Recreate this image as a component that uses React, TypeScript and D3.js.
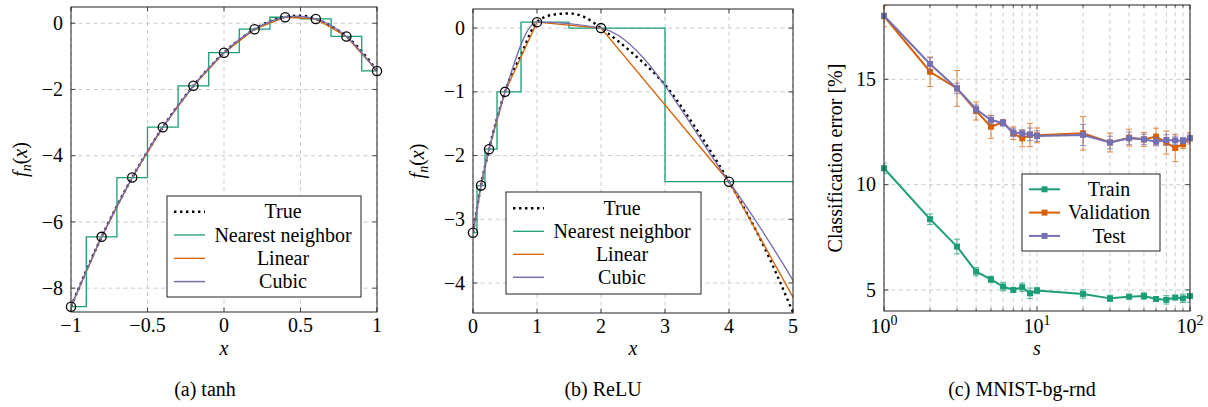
import React from 'react';
import * as d3 from 'd3';

// ---------- DATA ----------
// (a) tanh
const tanhSampleX = [-1, -0.8, -0.6, -0.4, -0.2, 0, 0.2, 0.4, 0.6, 0.8, 1];
const tanhSampleY = [-8.56, -6.45, -4.66, -3.14, -1.89, -0.89, -0.18, 0.18, 0.13, -0.4, -1.44];
const tanhTrueX = [-1, -0.9, -0.8, -0.7, -0.6, -0.5, -0.4, -0.3, -0.2, -0.1, 0, 0.1, 0.2, 0.3, 0.4, 0.5, 0.6, 0.7, 0.8, 0.9, 1];
const tanhTrueY = [-8.56, -7.47, -6.45, -5.52, -4.66, -3.87, -3.14, -2.48, -1.89, -1.36, -0.89, -0.5, -0.18, 0.06, 0.19, 0.23, 0.13, -0.08, -0.4, -0.85, -1.44];
const tanhXTicks = [-1, -0.5, 0, 0.5, 1];
const tanhXTickLabels = ['−1', '−0.5', '0', '0.5', '1'];
const tanhYTicks = [0, -2, -4, -6, -8];
const tanhYTickLabels = ['0', '−2', '−4', '−6', '−8'];

// (b) ReLU
const reluSampleX = [0, 0.125, 0.25, 0.5, 1, 2, 4, 8];
const reluSampleY = [-3.21, -2.47, -1.9, -1.0, 0.094, 0.0, -2.41, -9.65];
const reluTrueX = [0, 0.125, 0.25, 0.375, 0.5, 0.75, 1, 1.25, 1.5, 1.75, 2, 2.5, 3, 3.5, 4, 4.5, 5];
const reluTrueY = [-3.21, -2.47, -1.9, -1.42, -1.0, -0.42, 0.094, 0.21, 0.23, 0.17, 0.0, -0.4, -0.89, -1.6, -2.41, -3.33, -4.46];
const reluXTicks = [0, 1, 2, 3, 4, 5];
const reluXTickLabels = ['0', '1', '2', '3', '4', '5'];
const reluYTicks = [0, -1, -2, -3, -4];
const reluYTickLabels = ['0', '−1', '−2', '−3', '−4'];

// (c) MNIST-bg-rnd
const sValues = [1, 2, 3, 4, 5, 6, 7, 8, 9, 10, 20, 30, 40, 50, 60, 70, 80, 90, 100];
const trainMean = [10.78, 8.36, 7.06, 5.87, 5.5, 5.16, 5.0, 5.13, 4.84, 4.97, 4.81, 4.6, 4.68, 4.71, 4.57, 4.53, 4.64, 4.6, 4.71];
const trainErr = [0.25, 0.25, 0.35, 0.2, 0.15, 0.2, 0.1, 0.2, 0.25, 0.15, 0.2, 0.15, 0.1, 0.15, 0.1, 0.2, 0.1, 0.2, 0.3];
const valMean = [18.0, 15.36, 14.57, 13.5, 12.75, 12.96, 12.44, 12.2, 12.36, 12.34, 12.44, 12.0, 12.23, 12.15, 12.28, 12.0, 11.74, 11.92, 12.2];
const valErr = [0.5, 0.7, 0.85, 0.43, 0.55, 0.1, 0.3, 0.4, 0.55, 0.35, 0.8, 0.45, 0.4, 0.33, 0.4, 0.55, 0.65, 0.2, 0.27];
const testMean = [18.02, 15.73, 14.57, 13.58, 13.07, 12.93, 12.48, 12.44, 12.39, 12.31, 12.36, 12.0, 12.2, 12.15, 12.04, 12.12, 12.1, 12.09, 12.2];
const testErr = [0.1, 0.3, 0.25, 0.2, 0.2, 0.15, 0.2, 0.15, 0.3, 0.25, 0.5, 0.3, 0.3, 0.25, 0.2, 0.25, 0.2, 0.15, 0.2];
const cYTicks = [5, 10, 15];
const cYTickLabels = ['5', '10', '15'];
const cXMajor = [1, 10, 100];
const cXMajorExp = ['0', '1', '2'];
const cXMinor = [2, 3, 4, 5, 6, 7, 8, 9, 20, 30, 40, 50, 60, 70, 80, 90];

const interpLegend = ['True', 'Nearest neighbor', 'Linear', 'Cubic'];
const mnistLegend = ['Train', 'Validation', 'Test'];
const captions = ['(a) tanh', '(b) ReLU', '(c) MNIST-bg-rnd'];

// ---------- STYLE ----------
const FONT = '"Liberation Serif", "Times New Roman", serif';
const FS = 20;
const GREEN = '#1b9e77';
const ORANGE = '#d95f02';
const PURPLE = '#7570b3';
const GRID = '#c4c4c4';
const AXIS = '#222';

type Box = { left: number; right: number; top: number; bottom: number };
const PA: Box = { left: 71, right: 377, top: 7, bottom: 312 };
const PB: Box = { left: 473, right: 793, top: 9, bottom: 313 };
const PC: Box = { left: 884, right: 1190, top: 5, bottom: 311 };

const zip = (xs: number[], ys: number[]) => xs.map((x, i) => [x, ys[i]] as [number, number]);

function Frame({ b }: { b: Box }) {
  return (
    <rect x={b.left} y={b.top} width={b.right - b.left} height={b.bottom - b.top} fill="none" stroke={AXIS} strokeWidth={1} />
  );
}

function XGrid({ b, xs }: { b: Box; xs: number[] }) {
  return (
    <g>
      {xs.map((x, i) => (
        <line key={i} x1={x} x2={x} y1={b.top} y2={b.bottom} stroke={GRID} strokeWidth={0.9} strokeDasharray="4 3.5" />
      ))}
    </g>
  );
}
function YGrid({ b, ys }: { b: Box; ys: number[] }) {
  return (
    <g>
      {ys.map((y, i) => (
        <line key={i} x1={b.left} x2={b.right} y1={y} y2={y} stroke={GRID} strokeWidth={0.9} strokeDasharray="4 3.5" />
      ))}
    </g>
  );
}
function XTicks({ b, xs, len = 4.5 }: { b: Box; xs: number[]; len?: number }) {
  return (
    <g stroke={AXIS} strokeWidth={0.8}>
      {xs.map((x, i) => (
        <g key={i}>
          <line x1={x} x2={x} y1={b.bottom} y2={b.bottom - len} />
          <line x1={x} x2={x} y1={b.top} y2={b.top + len} />
        </g>
      ))}
    </g>
  );
}
function YTicks({ b, ys, len = 4.5 }: { b: Box; ys: number[]; len?: number }) {
  return (
    <g stroke={AXIS} strokeWidth={0.8}>
      {ys.map((y, i) => (
        <g key={i}>
          <line x1={b.left} x2={b.left + len} y1={y} y2={y} />
          <line x1={b.right} x2={b.right - len} y1={y} y2={y} />
        </g>
      ))}
    </g>
  );
}
function XLabels({ b, xs, labels }: { b: Box; xs: number[]; labels: string[] }) {
  return (
    <g fontSize={FS} fontFamily={FONT} textAnchor="middle" fill="#000">
      {xs.map((x, i) => (
        <text key={i} x={x} y={b.bottom + 20}>{labels[i]}</text>
      ))}
    </g>
  );
}
function YLabels({ b, ys, labels }: { b: Box; ys: number[]; labels: string[] }) {
  return (
    <g fontSize={FS} fontFamily={FONT} textAnchor="end" fill="#000">
      {ys.map((y, i) => (
        <text key={i} x={b.left - 8} y={y} dy="0.33em">{labels[i]}</text>
      ))}
    </g>
  );
}

function FnLabel({ x, y }: { x: number; y: number }) {
  return (
    <text transform={`translate(${x},${y}) rotate(-90)`} textAnchor="middle" fontFamily={FONT} fontSize={FS} dy="0.33em">
      <tspan fontStyle="italic">f</tspan>
      <tspan fontStyle="italic" fontSize={14} dy={4}>n</tspan>
      <tspan dy={-4}>(</tspan>
      <tspan fontStyle="italic">x</tspan>
      <tspan>)</tspan>
    </text>
  );
}

function InterpLegend({ x, y, w, h, rowY, step, sx0, sx1, tx }: any) {
  const styles = [
    { stroke: '#000', width: 2.4, dash: '2.4 3.6' },
    { stroke: GREEN, width: 1.3, dash: undefined },
    { stroke: ORANGE, width: 1.3, dash: undefined },
    { stroke: PURPLE, width: 1.5, dash: undefined },
  ];
  return (
    <g>
      <rect x={x} y={y} width={w} height={h} fill="#fff" stroke={AXIS} strokeWidth={1} />
      {interpLegend.map((t, i) => (
        <g key={i}>
          <line x1={sx0} x2={sx1} y1={rowY + i * step} y2={rowY + i * step} stroke={styles[i].stroke} strokeWidth={styles[i].width} strokeDasharray={styles[i].dash} />
          <text x={tx} y={rowY + i * step} dy="0.33em" textAnchor="middle" fontFamily={FONT} fontSize={FS}>{t}</text>
        </g>
      ))}
    </g>
  );
}

function InterpPanel({ b, xDom, yDom, sx, sy, tx, ty, xTicks, xLabels, yTicks, yLabels, id, legend, ylabX, cubicCurve }: any) {
  const x = d3.scaleLinear().domain(xDom).range([b.left, b.right]);
  const y = d3.scaleLinear().domain(yDom).range([b.bottom, b.top]);
  const samples = zip(sx, sy);
  const truth = zip(tx, ty);
  const mk = (curve: any) => d3.line<[number, number]>().x((d) => x(d[0])).y((d) => y(d[1])).curve(curve);
  const inDomain = samples.filter((d) => d[0] >= xDom[0] - 1e-9 && d[0] <= xDom[1] + 1e-9);
  return (
    <g>
      <defs>
        <clipPath id={id}>
          <rect x={b.left} y={b.top} width={b.right - b.left} height={b.bottom - b.top} />
        </clipPath>
      </defs>
      <XGrid b={b} xs={xTicks.map(x)} />
      <YGrid b={b} ys={yTicks.map(y)} />
      <XTicks b={b} xs={xTicks.map(x)} />
      <YTicks b={b} ys={yTicks.map(y)} />
      <g clipPath={`url(#${id})`} fill="none">
        <path d={mk(d3.curveMonotoneX)(truth) || ''} stroke="#000" strokeWidth={2.4} strokeDasharray="2.4 3.6" />
        <path d={mk(d3.curveStep)(samples) || ''} stroke={GREEN} strokeWidth={1.3} />
        <path d={mk(d3.curveLinear)(samples) || ''} stroke={ORANGE} strokeWidth={1.3} />
        <path d={mk(cubicCurve)(samples) || ''} stroke={PURPLE} strokeWidth={1.4} />
      </g>
      {inDomain.map((d, i) => (
        <circle key={i} cx={x(d[0])} cy={y(d[1])} r={4.6} fill="none" stroke="#000" strokeWidth={1.3} />
      ))}
      <Frame b={b} />
      <XLabels b={b} xs={xTicks.map(x)} labels={xLabels} />
      <YLabels b={b} ys={yTicks.map(y)} labels={yLabels} />
      <text x={(b.left + b.right) / 2} y={355} textAnchor="middle" fontFamily={FONT} fontSize={FS} fontStyle="italic">x</text>
      <FnLabel x={ylabX} y={(b.top + b.bottom) / 2} />
      <InterpLegend {...legend} />
    </g>
  );
}

function MnistPanel() {
  const b = PC;
  const x = d3.scaleLog().domain([1, 100]).range([b.left, b.right]);
  const y = d3.scaleLinear().domain([4.0, 18.53]).range([b.bottom, b.top]);
  const series = [
    { mean: trainMean, err: trainErr, color: GREEN },
    { mean: valMean, err: valErr, color: ORANGE },
    { mean: testMean, err: testErr, color: PURPLE },
  ];
  const line = d3.line<[number, number]>().x((d) => x(d[0])).y((d) => y(d[1]));
  const allX = [...cXMajor, ...cXMinor].map(x);
  return (
    <g>
      <defs>
        <clipPath id="clipC">
          <rect x={b.left} y={b.top} width={b.right - b.left} height={b.bottom - b.top} />
        </clipPath>
      </defs>
      <XGrid b={b} xs={allX} />
      <YGrid b={b} ys={cYTicks.map(y)} />
      <XTicks b={b} xs={cXMajor.map(x)} len={4.5} />
      <XTicks b={b} xs={cXMinor.map(x)} len={2.5} />
      <YTicks b={b} ys={cYTicks.map(y)} />
      {series.map((s, k) => (
        <g key={k}>
          <g clipPath="url(#clipC)" stroke={s.color} strokeWidth={1} opacity={0.75}>
            {sValues.map((v, i) => {
              const cx = x(v);
              const y1 = y(s.mean[i] - s.err[i]);
              const y2 = y(s.mean[i] + s.err[i]);
              return (
                <g key={i}>
                  <line x1={cx} x2={cx} y1={y1} y2={y2} />
                  <line x1={cx - 3} x2={cx + 3} y1={y1} y2={y1} />
                  <line x1={cx - 3} x2={cx + 3} y1={y2} y2={y2} />
                </g>
              );
            })}
          </g>
          <path clipPath="url(#clipC)" d={line(zip(sValues, s.mean)) || ''} fill="none" stroke={s.color} strokeWidth={2} />
          {sValues.map((v, i) => (
            <rect key={i} x={x(v) - 3} y={y(s.mean[i]) - 3} width={6} height={6} fill={s.color} />
          ))}
        </g>
      ))}
      <Frame b={b} />
      <g fontFamily={FONT} fontSize={FS} textAnchor="middle">
        {cXMajor.map((v, i) => (
          <text key={i} x={x(v)} y={b.bottom + 22}>
            10<tspan fontSize={14} dy={-8}>{cXMajorExp[i]}</tspan>
          </text>
        ))}
      </g>
      <YLabels b={b} ys={cYTicks.map(y)} labels={cYTickLabels} />
      <text x={(b.left + b.right) / 2} y={355} textAnchor="middle" fontFamily={FONT} fontSize={FS} fontStyle="italic">s</text>
      <text transform={`translate(835,${(b.top + b.bottom) / 2}) rotate(-90)`} dy="0.33em" textAnchor="middle" fontFamily={FONT} fontSize={FS}>
        Classification error [%]
      </text>
      <g>
        <rect x={1022} y={174} width={138} height={77} fill="#fff" stroke={AXIS} strokeWidth={1} />
        {mnistLegend.map((t, i) => {
          const ry = 189.3 + i * 23.3;
          return (
            <g key={i}>
              <line x1={1029} x2={1060} y1={ry} y2={ry} stroke={series[i].color} strokeWidth={2} />
              <rect x={1041.5} y={ry - 3} width={6} height={6} fill={series[i].color} />
              <text x={1109} y={ry} dy="0.33em" textAnchor="middle" fontFamily={FONT} fontSize={FS}>{t}</text>
            </g>
          );
        })}
      </g>
    </g>
  );
}

export default function App() {
  return (
    <svg width={1208} height={407} viewBox="0 0 1208 407" style={{ position: 'absolute', left: 0, top: 0, background: '#fff' }}>
      <rect width={1208} height={407} fill="#fff" />
      <InterpPanel
        id="clipA" b={PA} xDom={[-1, 1]} yDom={[-8.72, 0.49]}
        sx={tanhSampleX} sy={tanhSampleY} tx={tanhTrueX} ty={tanhTrueY}
        xTicks={tanhXTicks} xLabels={tanhXTickLabels} yTicks={tanhYTicks} yLabels={tanhYTickLabels}
        ylabX={20} cubicCurve={d3.curveNatural}
        legend={{ x: 167, y: 196, w: 194, h: 101, rowY: 211.7, step: 23.3, sx0: 174, sx1: 205, tx: 283 }}
      />
      <InterpPanel
        id="clipB" b={PB} xDom={[0, 5]} yDom={[-4.47, 0.3]}
        sx={reluSampleX} sy={reluSampleY} tx={reluTrueX} ty={reluTrueY}
        xTicks={reluXTicks} xLabels={reluXTickLabels} yTicks={reluYTicks} yLabels={reluYTickLabels}
        ylabX={417} cubicCurve={d3.curveMonotoneX}
        legend={{ x: 506, y: 192, w: 195, h: 102, rowY: 208.3, step: 23, sx0: 513, sx1: 544, tx: 622 }}
      />
      <MnistPanel />
      <g fontFamily={FONT} fontSize={FS} textAnchor="middle">
        <text x={205} y={396}>{captions[0]}</text>
        <text x={603} y={396}>{captions[1]}</text>
        <text x={1022} y={396}>{captions[2]}</text>
      </g>
    </svg>
  );
}
